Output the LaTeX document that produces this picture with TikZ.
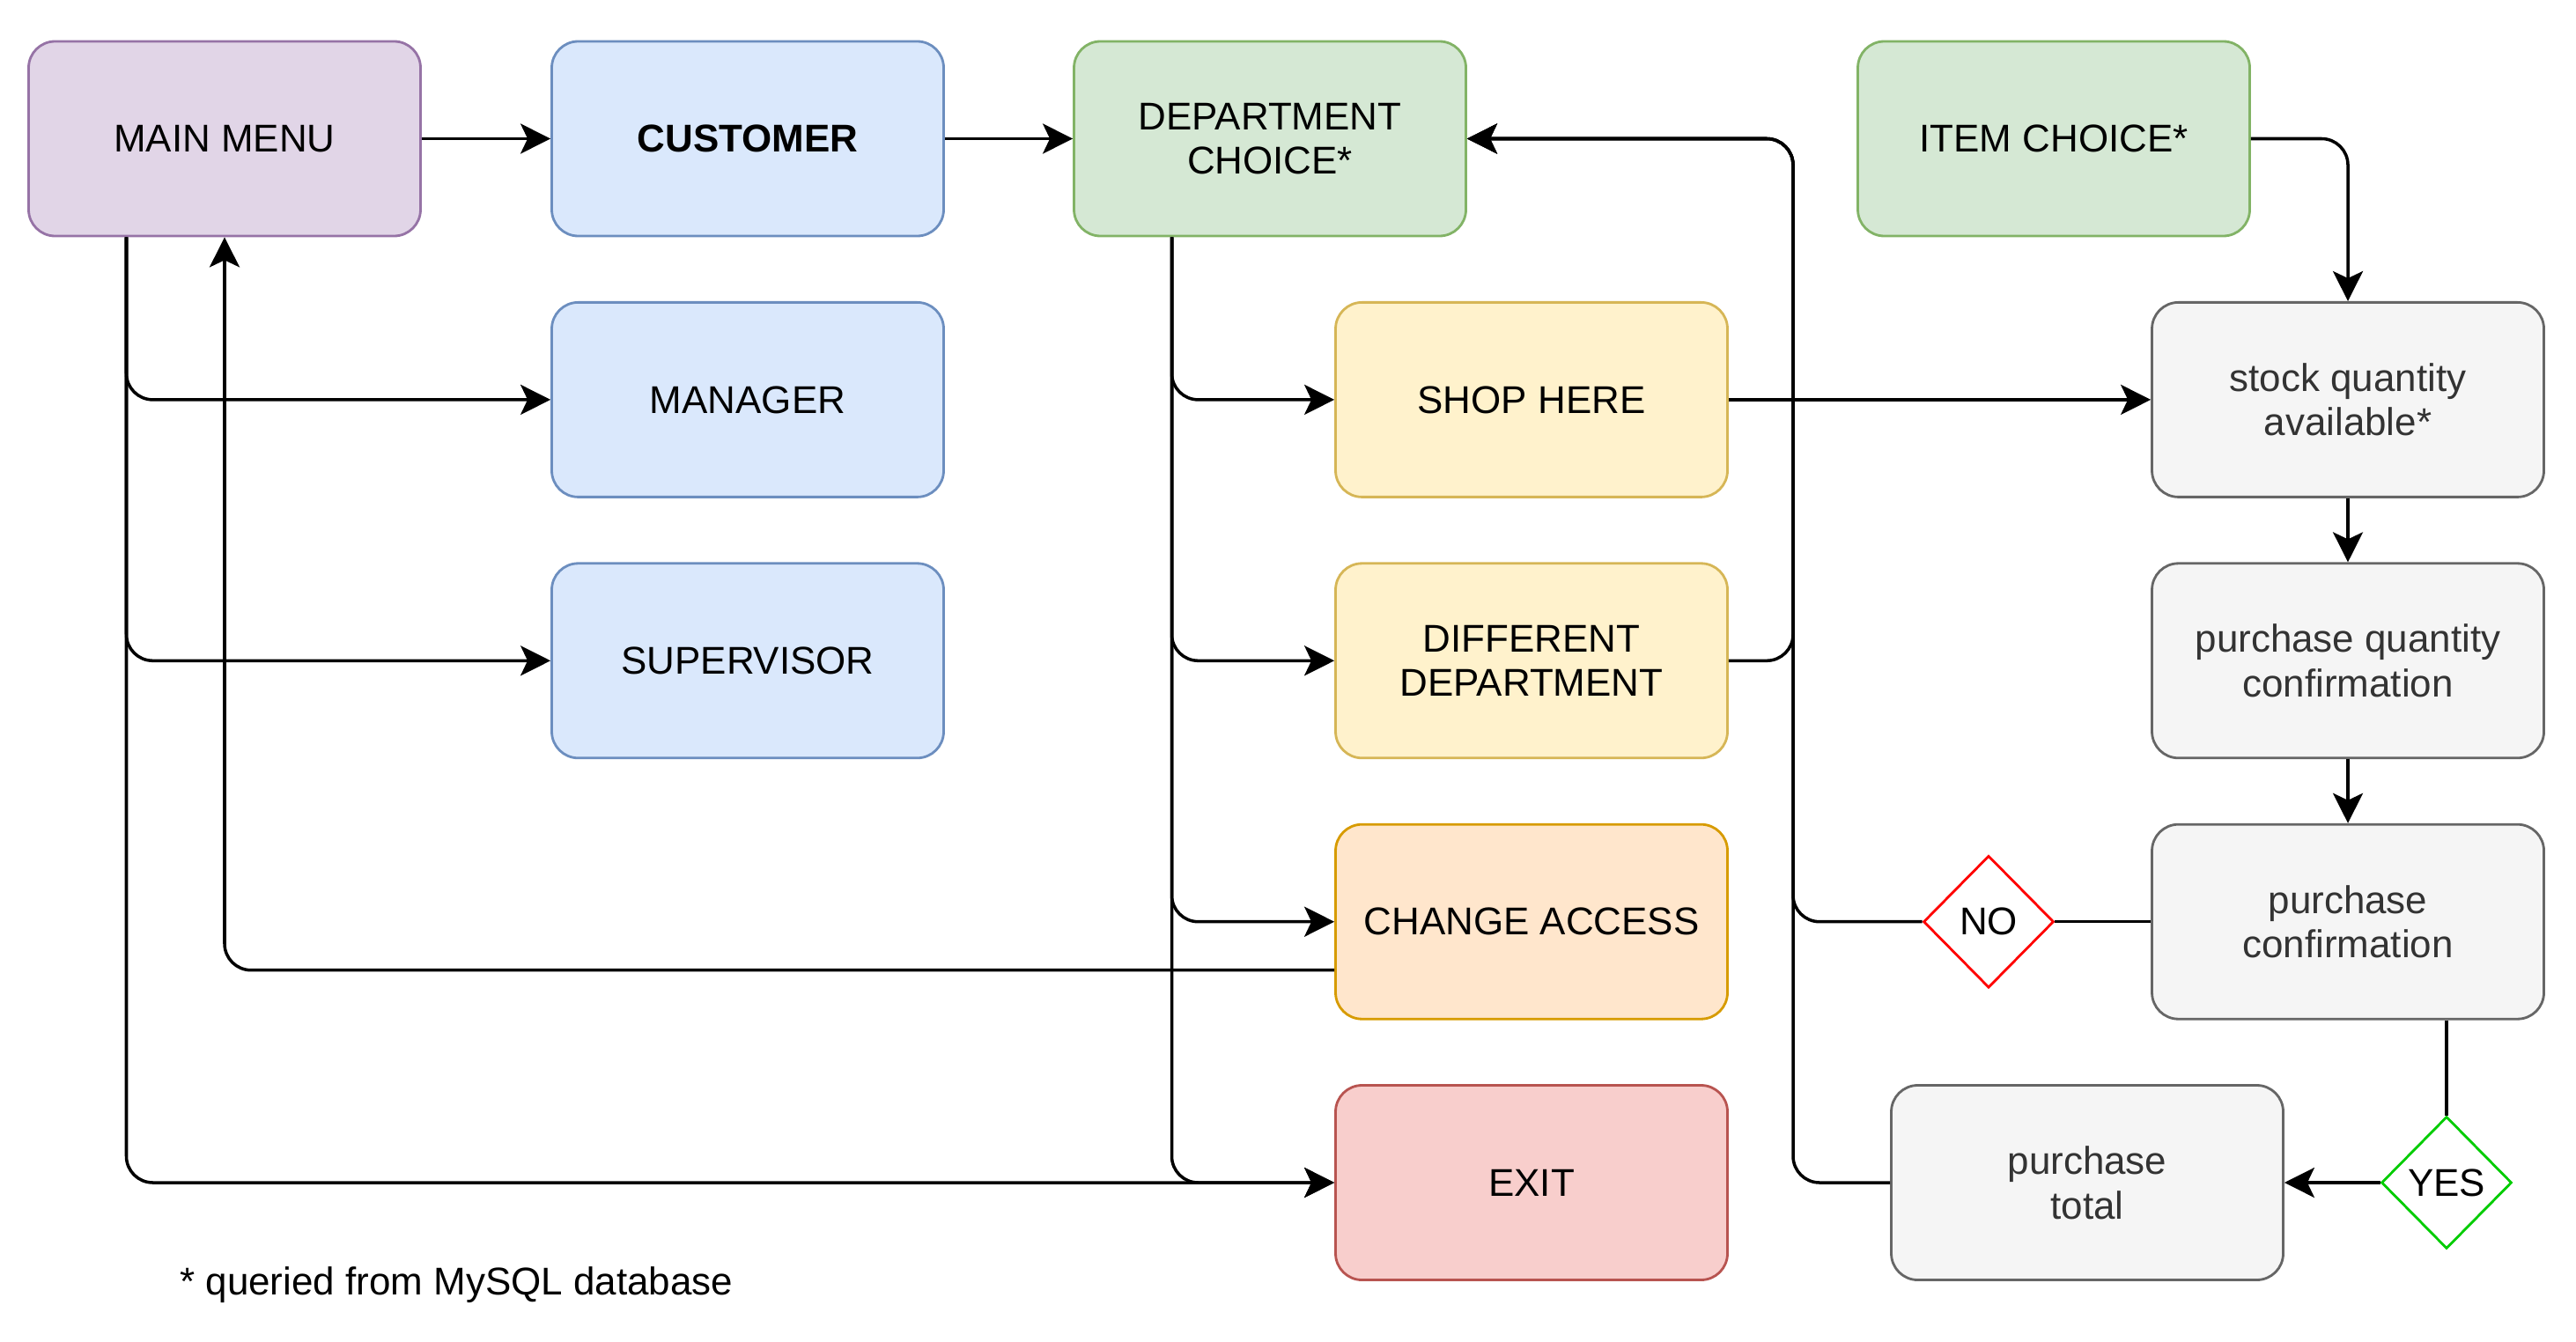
\documentclass[tikz,border=0pt]{standalone}
\usepackage{fontspec}
\setmainfont{Liberation Sans}
\usepackage{tikz}
\usetikzlibrary{arrows.meta, calc, shapes, positioning}

\definecolor{menuFill}{HTML}{E1D5E7}
\definecolor{menuLine}{HTML}{9673A6}
\definecolor{userFill}{HTML}{DAE8FC}
\definecolor{userLine}{HTML}{6C8EBF}
\definecolor{choiceFill}{HTML}{D5E8D4}
\definecolor{choiceLine}{HTML}{82B366}
\definecolor{shopFill}{HTML}{FFF2CC}
\definecolor{shopLine}{HTML}{D6B656}
\definecolor{accessFill}{HTML}{FFE6CC}
\definecolor{accessLine}{HTML}{D79B00}
\definecolor{exitFill}{HTML}{F8CECC}
\definecolor{exitLine}{HTML}{B85450}
\definecolor{stepFill}{HTML}{F5F5F5}
\definecolor{stepLine}{HTML}{666666}
\definecolor{stepText}{HTML}{333333}
\definecolor{noLine}{HTML}{FF0000}
\definecolor{yesLine}{HTML}{00CC00}

\begin{document}
\begin{tikzpicture}[
	box/.style={draw, rounded corners=3mm, line width=0.8pt, minimum width=4.45cm, minimum height=2.21cm, align=center, font=\fontsize{12.5}{14.4}\selectfont},
	grey box/.style={box, fill=stepFill, draw=stepLine, text=stepText},
	choice/.style={diamond, draw, fill=white, line width=0.8pt, minimum width=1.48cm, minimum height=1.5cm, inner sep=0pt, font=\fontsize{12.5}{14.4}\selectfont},
	line/.style={line width=1pt, rounded corners=3mm},
	link/.style={line, -{Stealth[length=3.4mm, width=3.4mm, inset=0.8mm]}}
	]
	\useasboundingbox (0,0) rectangle (29.25,15.23);
	
	% Menu and users
	\node[box, fill=menuFill, draw=menuLine] (main) at (2.55,13.655) {MAIN MENU};
	\node[box, fill=userFill, draw=userLine, font=\fontsize{12.5}{14.4}\selectfont\bfseries] (customer) at (8.49,13.655) {CUSTOMER};
	\node[box, fill=userFill, draw=userLine] (manager) at (8.49,10.691) {MANAGER};
	\node[box, fill=userFill, draw=userLine] (supervisor) at (8.49,7.727) {SUPERVISOR};
	
	% Customer options
	\node[box, fill=choiceFill, draw=choiceLine] (dept) at (14.42,13.655) {DEPARTMENT\\CHOICE*};
	\node[box, fill=shopFill, draw=shopLine] (shop) at (17.39,10.691) {SHOP HERE};
	\node[box, fill=shopFill, draw=shopLine] (diff) at (17.39,7.727) {DIFFERENT\\DEPARTMENT};
	\node[box, fill=accessFill, draw=accessLine] (access) at (17.39,4.763) {CHANGE ACCESS};
	\node[box, fill=exitFill, draw=exitLine] (exit) at (17.39,1.80) {EXIT};
	
	% Purchase steps
	\node[box, fill=choiceFill, draw=choiceLine] (item) at (23.32,13.655) {ITEM CHOICE*};
	\node[grey box] (stock) at (26.66,10.691) {stock quantity\\available*};
	\node[grey box] (qty) at (26.66,7.727) {purchase quantity\\confirmation};
	\node[grey box] (confirm) at (26.66,4.763) {purchase\\confirmation};
	\node[grey box] (total) at (23.70,1.80) {purchase\\total};
	\node[choice, draw=noLine] (no) at (22.58,4.763) {NO};
	\node[choice, draw=yesLine] (yes) at (27.78,1.80) {YES};
	\coordinate (bus) at (20.36,0);
	
	% Menu connectors
	\draw[link] (main.east) -- (customer.west);
	\draw[link] (customer.east) -- (dept.west);
	\draw[link] ([xshift=-1.115cm]main.south) |- (manager.west);
	\draw[link] ([xshift=-1.115cm]main.south) |- (supervisor.west);
	\draw[link] ([xshift=-1.115cm]main.south) |- (exit.west);
	\draw[link] ([yshift=-0.55cm]access.west) -| (main.south);
	
	% Department connectors
	\draw[link] ([xshift=-1.115cm]dept.south) |- (shop.west);
	\draw[link] ([xshift=-1.115cm]dept.south) |- (diff.west);
	\draw[link] ([xshift=-1.115cm]dept.south) |- (access.west);
	\draw[link] ([xshift=-1.115cm]dept.south) |- (exit.west);
	\draw[link] (diff.east) -- (diff.east -| bus) |- (dept.east);
	\draw[link] (no.west) -- (no.west -| bus) |- (dept.east);
	\draw[link] (total.west) -- (total.west -| bus) |- (dept.east);
	
	% Purchase connectors
	\draw[link] (shop.east) -- (stock.west);
	\draw[link] (item.east) -| (stock.north);
	\draw[link] (stock.south) -- (qty.north);
	\draw[link] (qty.south) -- (confirm.north);
	\draw[line] (confirm.west) -- (no.east);
	\draw[line] (yes.north |- confirm.south) -- (yes.north);
	\draw[link] (yes.west) -- (total.east);
	
	\node[anchor=west, font=\fontsize{12.5}{14.4}\selectfont] (note) at (1.92,0.64) {* queried from MySQL database};
\end{tikzpicture}
\end{document}
